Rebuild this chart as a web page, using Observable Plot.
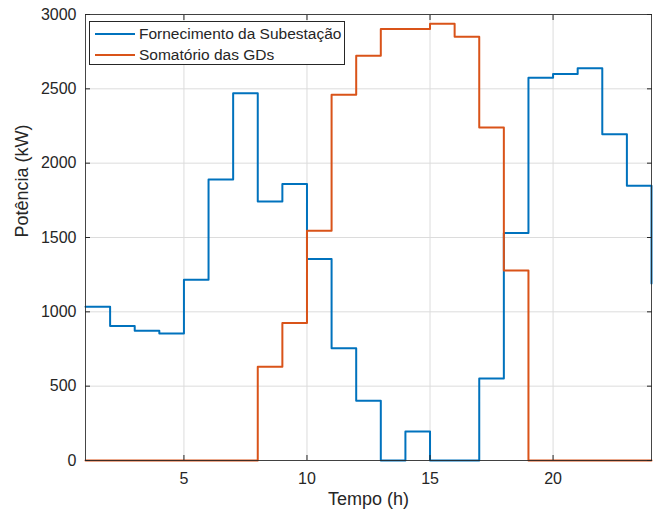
<!DOCTYPE html>
<html>
<head>
<meta charset="utf-8">
<script src="https://cdn.jsdelivr.net/npm/d3@7"></script>
<script src="https://cdn.jsdelivr.net/npm/@observablehq/plot@0.6"></script>
<style>
  html, body { margin: 0; padding: 0; background: #fff; }
  #wrap { position: relative; width: 657px; height: 518px; font-family: "Liberation Sans", Arial, sans-serif; }
  #legend { position: absolute; left: 89px; top: 21px; width: 256px; height: 44px; border: 1px solid #262626; background: #fff; box-sizing: border-box; }
  .item { position: absolute; left: 0; height: 20px; display: flex; align-items: center; font-size: 15.5px; color: #262626; white-space: nowrap; }
  .swatch { width: 40px; height: 2px; margin-left: 5px; margin-right: 4px; }
</style>
</head>
<body>
<div id="wrap">
  <div id="legend"></div>
</div>
<script>
const hours = [1,2,3,4,5,6,7,8,9,10,11,12,13,14,15,16,17,18,19,20,21,22,23,24];
const substation = [1035,905,872,855,1215,1890,2470,1742,1860,1355,755,402,0,195,0,0,552,1530,2575,2600,2638,2195,1848,1190];
const gds = [0,0,0,0,0,0,0,630,925,1545,2460,2722,2902,2902,2937,2850,2240,1278,0,0,0,0,0,0];
const seriesNames = ["Fornecimento da Subestação", "Somatório das GDs"];
const seriesColors = ["#0072BD", "#D95319"];
const xTicks = [5, 10, 15, 20];
const yTicks = [0, 500, 1000, 1500, 2000, 2500, 3000];

const rows = [];
hours.forEach((h, i) => rows.push({h, v: substation[i], s: seriesNames[0]}));
hours.forEach((h, i) => rows.push({h, v: gds[i], s: seriesNames[1]}));

const axisColor = "#262626";
const fmt = d => String(d);
const chart = Plot.plot({
  width: 657,
  height: 518,
  marginLeft: 85,
  marginRight: 6,
  marginTop: 14,
  marginBottom: 58,
  style: { fontFamily: "Liberation Sans, Arial, sans-serif", fontSize: "16px", color: axisColor, background: "#fff" },
  x: { domain: [1, 24], ticks: xTicks, label: null },
  y: { domain: [0, 3000], ticks: yTicks, label: null },
  color: { domain: seriesNames, range: seriesColors },
  marks: [
    Plot.gridX(xTicks, { stroke: "#dcdcdc", strokeOpacity: 1 }),
    Plot.gridY(yTicks, { stroke: "#dcdcdc", strokeOpacity: 1 }),
    Plot.line(rows, { x: "h", y: "v", z: "s", stroke: "s", curve: "step-after", strokeWidth: 2 }),
    Plot.axisX({ anchor: "bottom", ticks: xTicks, tickFormat: fmt, tickSize: 0, tickPadding: 12, label: null, fontSize: 16 }),
    Plot.axisY({ anchor: "left", ticks: yTicks, tickFormat: fmt, tickSize: 0, tickPadding: 9, label: null, fontSize: 16 }),
    Plot.axisX({ anchor: "bottom", ticks: xTicks, tickSize: -5, fill: "none", label: null, stroke: axisColor }),
    Plot.axisX({ anchor: "top", ticks: xTicks, tickSize: -5, fill: "none", label: null, stroke: axisColor }),
    Plot.axisY({ anchor: "left", ticks: yTicks, tickSize: -5, fill: "none", label: null, stroke: axisColor }),
    Plot.axisY({ anchor: "right", ticks: yTicks, tickSize: -5, fill: "none", label: null, stroke: axisColor }),
    Plot.frame({ stroke: axisColor, strokeOpacity: 0.85 }),
    Plot.text(["Tempo (h)"], { frameAnchor: "bottom", dy: 44, fontSize: 18, fill: axisColor }),
    Plot.text(["Potência (kW)"], { frameAnchor: "left", dx: -63, rotate: -90, fontSize: 18, fill: axisColor })
  ]
});
const wrap = document.getElementById("wrap");
wrap.insertBefore(chart, wrap.firstChild);

const legend = document.getElementById("legend");
seriesNames.forEach((name, i) => {
  const it = document.createElement("div");
  it.className = "item";
  it.style.top = (i === 0 ? 2 : 23) + "px";
  const sw = document.createElement("span");
  sw.className = "swatch";
  sw.style.background = seriesColors[i];
  const tx = document.createElement("span");
  tx.textContent = name;
  it.appendChild(sw);
  it.appendChild(tx);
  legend.appendChild(it);
});
</script>
</body>
</html>
